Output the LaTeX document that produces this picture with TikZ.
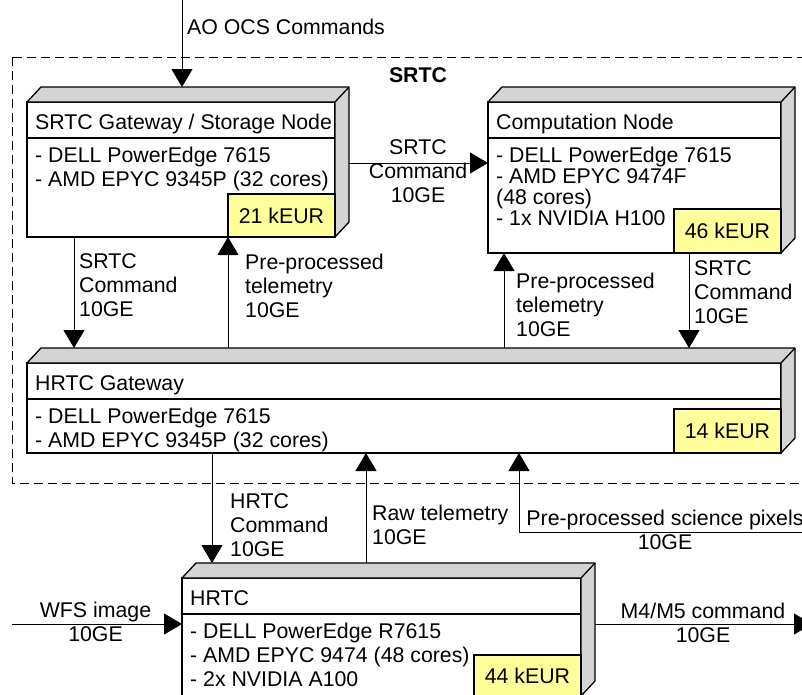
\documentclass[tikz,border=0pt]{standalone}
\usepackage{fontspec}
\setmainfont{Liberation Sans}
\usepackage{tikz}
\usetikzlibrary{arrows.meta}

\definecolor{facegray}{RGB}{212,212,212}
\definecolor{costyellow}{RGB}{255,255,153}

% top and side of a server box, plus the line under its title
\newcommand{\serverfaces}[1]{%
	\coordinate (#1-bnw) at ([shift={(14,-15)}]#1.north west);
	\coordinate (#1-bne) at ([shift={(14,-15)}]#1.north east);
	\coordinate (#1-bse) at ([shift={(14,-15)}]#1.south east);
	\filldraw[face] (#1.north west) -- (#1-bnw) -- (#1-bne) -- (#1-bse) -- (#1.south east) -- (#1.north east) -- cycle;
	\draw[face] (#1.north east) -- (#1-bne);
	\draw[face] ([yshift=-36pt]#1.north west) -- ([yshift=-36pt]#1.north east);
}

\begin{document}
\begin{tikzpicture}[x=1pt,y=-1pt,font=\fontsize{21.3}{24}\selectfont,
		front/.style 2 args={draw,fill=white,line width=1.3pt,anchor=north west,minimum width=#1pt,minimum height=#2pt,inner sep=0pt,outer sep=0pt},
		face/.style={draw,fill=facegray,line width=1.3pt,line join=round},
		cost/.style={draw,fill=costyellow,line width=1.3pt,anchor=south east,minimum width=107pt,minimum height=44pt,inner sep=0pt,outer sep=0pt},
		title/.style={anchor=base west,inner sep=0pt},
		body/.style={anchor=north west,align=left,inner sep=0pt},
		lbl/.style={anchor=north west,align=left,inner sep=0pt},
		clbl/.style={anchor=north,align=center,inner sep=0pt},
		arr/.style={line width=1pt,-{Triangle[width=21pt,length=18pt]}},
		frame/.style={line width=1pt,dash pattern=on 9pt off 5pt}]
				\useasboundingbox (0,0) rectangle (802,694);
				\clip (0,0) rectangle (802,694);

				%SRTC frame
				\draw[frame] (12,57) rectangle (830,483);
				\node[anchor=base,inner sep=0pt,font=\fontsize{21.3}{24}\selectfont\bfseries] (srtc) at (418,82) {SRTC};

				%Servers
				\node[front={308}{135}] (gw) at (27,102) {};
				\serverfaces{gw}
				\node[title] (gwtitle) at ([shift={(8,27)}]gw.north west) {SRTC Gateway / Storage Node};
				\node[body] (gwbody) at ([shift={(8,44.5)}]gw.north west) {- DELL PowerEdge 7615\\- AMD EPYC 9345P (32 cores)};
				\node[cost,minimum height=43pt] (gwcost) at (gw.south east) {21 kEUR};

				\node[front={293}{151}] (comp) at (488,102) {};
				\serverfaces{comp}
				\node[title] (comptitle) at ([shift={(8,27)}]comp.north west) {Computation Node};
				\node[body,font=\fontsize{21.3}{21}\selectfont] (compbody) at ([shift={(8,44.5)}]comp.north west) {- DELL PowerEdge 7615\\- AMD EPYC 9474F\\(48 cores)\\- 1x NVIDIA H100};
				\node[cost] (compcost) at (comp.south east) {46 kEUR};

				\node[front={754}{90}] (hgw) at (27,363) {};
				\serverfaces{hgw}
				\node[title] (hgwtitle) at ([shift={(8,27)}]hgw.north west) {HRTC Gateway};
				\node[body] (hgwbody) at ([shift={(8,44.5)}]hgw.north west) {- DELL PowerEdge 7615\\- AMD EPYC 9345P (32 cores)};
				\node[cost] (hgwcost) at (hgw.south east) {14 kEUR};

				\node[front={399}{118}] (hrtc) at (182,578) {};
				\serverfaces{hrtc}
				\node[title] (hrtctitle) at ([shift={(8,27)}]hrtc.north west) {HRTC};
				\node[body] (hrtcbody) at ([shift={(8,44.5)}]hrtc.north west) {- DELL PowerEdge R7615\\- AMD EPYC 9474 (48 cores)\\- 2x NVIDIA A100};
				\node[cost,minimum height=41pt] (hrtccost) at (hrtc.south east) {44 kEUR};

				%Links
				\coordinate (ao) at (182,0);
				\draw[arr] (ao) -- (ao |- gw-bnw);
				\node[title] (aolabel) at (187,34) {AO OCS Commands};

				\draw[arr] (gw-bne |- 0,163) -- (comp.west |- 0,163);
				\node[clbl] (cmd0) at (418,139.5) {SRTC\\Command\\10GE};

				\draw[arr] (gw.south -| 74,0) -- (hgw-bnw -| 74,0);
				\node[lbl] (cmd1) at (79,253.5) {SRTC\\Command\\10GE};

				\draw[arr] (hgw-bnw -| 228,0) -- (gw.south -| 228,0);
				\node[lbl] (tel1) at (245,253.5) {Pre-processed\\telemetry\\10GE};

				\draw[arr] (hgw-bnw -| 504,0) -- (comp.south -| 504,0);
				\node[lbl] (tel2) at (516,272.5) {Pre-processed\\telemetry\\10GE};

				\draw[arr] (comp.south -| 689,0) -- (hgw-bnw -| 689,0);
				\node[lbl] (cmd2) at (694,260.5) {SRTC\\Command\\10GE};

				\draw[arr] (hgw.south -| 212,0) -- (hrtc-bnw -| 212,0);
				\node[lbl] (hcmd) at (230,493.5) {HRTC\\Command\\10GE};

				\draw[arr] (hrtc-bnw -| 366,0) -- (hgw.south -| 366,0);
				\node[lbl] (raw) at (372,504.5) {Raw telemetry\\10GE};

				\coordinate (sci) at (830,532);
				\draw[arr] (sci) -| (hgw.south -| 519,0);
				\node[clbl] (scilabel) at (665,509.5) {Pre-processed science pixels\\10GE};

				\coordinate (wfs) at (12,624);
				\draw[arr] (wfs) -- (hrtc.west |- wfs);
				\node[clbl] (wfslabel) at (95.5,601.5) {WFS image\\10GE};

				\coordinate (m4) at (812,624);
				\draw[arr] (hrtc-bne |- m4) -- (m4);
				\node[clbl] (m4label) at (703,602.5) {M4/M5 command\\10GE};
\end{tikzpicture}
\end{document}
